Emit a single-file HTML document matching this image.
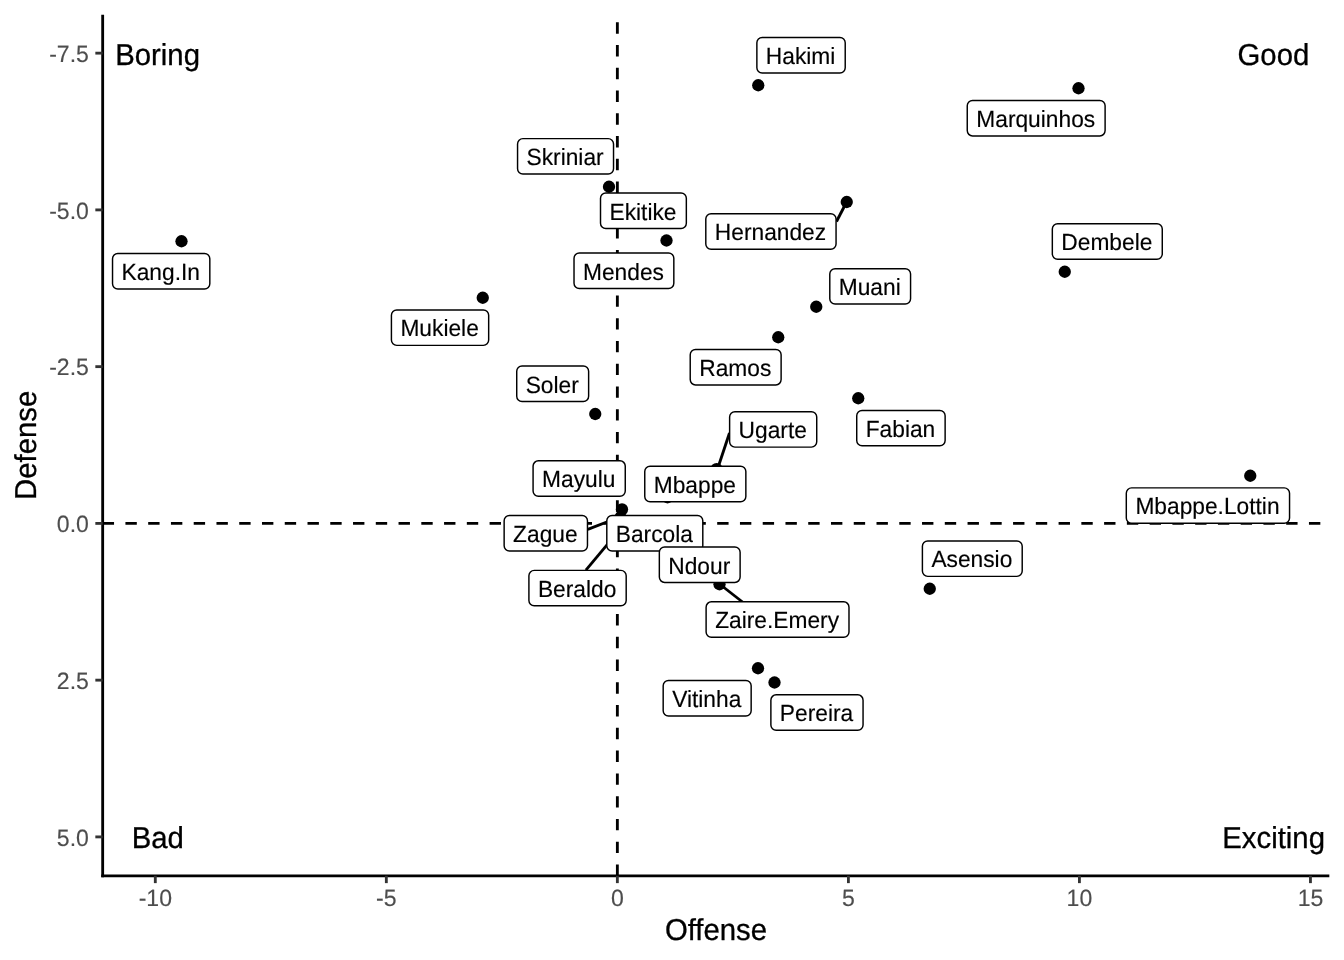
<!DOCTYPE html>
<html><head><meta charset="utf-8"><title>Offense vs Defense</title>
<style>html,body{margin:0;padding:0;background:#fff;}body{width:1344px;height:960px;overflow:hidden;}svg{display:block;will-change:transform;filter:grayscale(1);}
text{font-family:"Liberation Sans",sans-serif;stroke-width:0.3px;paint-order:stroke;text-rendering:geometricPrecision;}.ti{stroke:#000;}.lb{stroke:#000;stroke-width:0.15px;}.tk{stroke:#4d4d4d;stroke-width:0.15px;}
.tk{font-size:23.05px;fill:#4d4d4d;}.ti{font-size:29.33px;fill:#000;}.lb{font-size:22.76px;fill:#000;text-anchor:middle;}
.bx{fill:#fff;stroke:#000;stroke-width:1.45;}.sg{stroke:#000;stroke-width:2.84;fill:none;}
</style></head><body>
<svg width="1344" height="960" viewBox="0 0 1344 960">
<rect x="0" y="0" width="1344" height="960" fill="#ffffff"/>
<g fill="#000">
<circle cx="181.50" cy="241.25" r="6.15"/>
<circle cx="609.00" cy="186.75" r="6.15"/>
<circle cx="666.50" cy="240.50" r="6.15"/>
<circle cx="482.75" cy="297.75" r="6.15"/>
<circle cx="595.25" cy="414.00" r="6.15"/>
<circle cx="758.25" cy="85.25" r="6.15"/>
<circle cx="1078.50" cy="88.25" r="6.15"/>
<circle cx="846.75" cy="202.00" r="6.15"/>
<circle cx="1064.75" cy="271.75" r="6.15"/>
<circle cx="816.25" cy="306.75" r="6.15"/>
<circle cx="778.25" cy="337.25" r="6.15"/>
<circle cx="858.25" cy="398.25" r="6.15"/>
<circle cx="1250.25" cy="475.75" r="6.15"/>
<circle cx="929.75" cy="588.75" r="6.15"/>
<circle cx="758.00" cy="668.25" r="6.15"/>
<circle cx="774.50" cy="682.50" r="6.15"/>
<circle cx="622.00" cy="509.35" r="6.15"/>
<circle cx="716.60" cy="469.05" r="6.15"/>
<circle cx="667.50" cy="497.25" r="6.15"/>
<circle cx="719.50" cy="584.25" r="6.15"/>
<circle cx="620.50" cy="517.45" r="6.15"/>
</g>
<g stroke="#000" stroke-width="2.84" stroke-dasharray="11.38 11.38" fill="none">
<line x1="102.67" y1="523.40" x2="1329.33" y2="523.40"/>
<line x1="617.36" y1="875.80" x2="617.36" y2="14.67"/>
</g>
<g class="ti" text-anchor="middle">
<text class="ti" transform="translate(157.60,64.70) scale(1,1.030)">Boring</text>
<text class="ti" transform="translate(1273.40,64.90) scale(1,1.030)">Good</text>
<text class="ti" transform="translate(157.80,848.00) scale(1,1.030)">Bad</text>
<text class="ti" transform="translate(1273.60,848.20) scale(1,1.030)">Exciting</text>
</g>
<g>
<rect class="bx" x="112.53" y="253.56" width="97.29" height="35.39" rx="5.3" ry="5.3"/>
<text class="lb" transform="translate(160.72,280.06) scale(1,1.030)">Kang.In</text>
</g>
<g>
<rect class="bx" x="517.56" y="138.63" width="95.97" height="35.39" rx="5.3" ry="5.3"/>
<text class="lb" transform="translate(565.10,165.13) scale(1,1.030)">Skriniar</text>
</g>
<g>
<rect class="bx" x="600.51" y="193.06" width="85.83" height="35.39" rx="5.3" ry="5.3"/>
<text class="lb" transform="translate(642.98,219.56) scale(1,1.030)">Ekitike</text>
</g>
<g>
<rect class="bx" x="574.02" y="253.06" width="99.81" height="35.39" rx="5.3" ry="5.3"/>
<text class="lb" transform="translate(623.48,279.56) scale(1,1.030)">Mendes</text>
</g>
<g>
<rect class="bx" x="391.42" y="309.98" width="97.25" height="35.39" rx="5.3" ry="5.3"/>
<text class="lb" transform="translate(439.60,336.48) scale(1,1.030)">Mukiele</text>
</g>
<g>
<rect class="bx" x="516.73" y="366.06" width="71.90" height="35.39" rx="5.3" ry="5.3"/>
<text class="lb" transform="translate(552.23,392.56) scale(1,1.030)">Soler</text>
</g>
<g>
<rect class="bx" x="690.22" y="349.53" width="90.90" height="35.39" rx="5.3" ry="5.3"/>
<text class="lb" transform="translate(735.23,376.03) scale(1,1.030)">Ramos</text>
</g>
<g>
<line class="sg" x1="729.50" y1="433.00" x2="717.60" y2="468.80"/>
<rect class="bx" x="729.62" y="411.75" width="87.11" height="35.39" rx="5.3" ry="5.3"/>
<text class="lb" transform="translate(772.73,438.25) scale(1,1.030)">Ugarte</text>
</g>
<g>
<rect class="bx" x="533.08" y="460.81" width="92.18" height="35.39" rx="5.3" ry="5.3"/>
<text class="lb" transform="translate(578.73,487.31) scale(1,1.030)">Mayulu</text>
</g>
<g>
<rect class="bx" x="644.76" y="466.31" width="101.09" height="35.39" rx="5.3" ry="5.3"/>
<text class="lb" transform="translate(694.85,492.81) scale(1,1.030)">Mbappe</text>
</g>
<g>
<line class="sg" x1="587.80" y1="529.40" x2="612.00" y2="520.00"/>
<rect class="bx" x="504.14" y="515.55" width="83.33" height="35.39" rx="5.3" ry="5.3"/>
<text class="lb" transform="translate(545.35,542.05) scale(1,1.030)">Zague</text>
</g>
<g>
<line class="sg" x1="585.90" y1="570.20" x2="612.00" y2="538.90"/>
<rect class="bx" x="528.91" y="570.38" width="97.28" height="35.39" rx="5.3" ry="5.3"/>
<text class="lb" transform="translate(577.10,596.88) scale(1,1.030)">Beraldo</text>
</g>
<g>
<rect class="bx" x="606.80" y="515.55" width="96.00" height="35.39" rx="5.3" ry="5.3"/>
<text class="lb" transform="translate(654.35,542.05) scale(1,1.030)">Barcola</text>
</g>
<g>
<line class="sg" x1="742.50" y1="602.00" x2="719.50" y2="584.00"/>
<rect class="bx" x="706.11" y="601.83" width="142.88" height="35.39" rx="5.3" ry="5.3"/>
<text class="lb" transform="translate(777.10,628.33) scale(1,1.030)">Zaire.Emery</text>
</g>
<g>
<rect class="bx" x="659.34" y="547.03" width="80.78" height="35.39" rx="5.3" ry="5.3"/>
<text class="lb" transform="translate(699.27,573.53) scale(1,1.030)">Ndour</text>
</g>
<g>
<rect class="bx" x="663.18" y="680.55" width="87.98" height="35.39" rx="5.3" ry="5.3"/>
<text class="lb" transform="translate(706.73,707.05) scale(1,1.030)">Vitinha</text>
</g>
<g>
<rect class="bx" x="770.88" y="694.83" width="92.18" height="35.39" rx="5.3" ry="5.3"/>
<text class="lb" transform="translate(816.52,721.33) scale(1,1.030)">Pereira</text>
</g>
<g>
<rect class="bx" x="756.87" y="37.55" width="88.35" height="35.39" rx="5.3" ry="5.3"/>
<text class="lb" transform="translate(800.60,64.06) scale(1,1.030)">Hakimi</text>
</g>
<g>
<rect class="bx" x="967.25" y="100.53" width="137.86" height="35.39" rx="5.3" ry="5.3"/>
<text class="lb" transform="translate(1035.72,127.03) scale(1,1.030)">Marquinhos</text>
</g>
<g>
<line class="sg" x1="836.50" y1="221.50" x2="846.75" y2="201.75"/>
<rect class="bx" x="705.80" y="213.81" width="130.26" height="35.39" rx="5.3" ry="5.3"/>
<text class="lb" transform="translate(770.48,240.31) scale(1,1.030)">Hernandez</text>
</g>
<g>
<rect class="bx" x="1052.33" y="223.81" width="109.94" height="35.39" rx="5.3" ry="5.3"/>
<text class="lb" transform="translate(1106.85,250.31) scale(1,1.030)">Dembele</text>
</g>
<g>
<rect class="bx" x="829.79" y="268.68" width="80.78" height="35.39" rx="5.3" ry="5.3"/>
<text class="lb" transform="translate(869.73,295.18) scale(1,1.030)">Muani</text>
</g>
<g>
<rect class="bx" x="856.73" y="410.43" width="88.40" height="35.39" rx="5.3" ry="5.3"/>
<text class="lb" transform="translate(900.48,436.93) scale(1,1.030)">Fabian</text>
</g>
<g>
<rect class="bx" x="1126.30" y="487.88" width="163.25" height="35.39" rx="5.3" ry="5.3"/>
<text class="lb" transform="translate(1207.47,514.38) scale(1,1.030)">Mbappe.Lottin</text>
</g>
<g>
<rect class="bx" x="922.40" y="540.98" width="99.81" height="35.39" rx="5.3" ry="5.3"/>
<text class="lb" transform="translate(971.85,567.48) scale(1,1.030)">Asensio</text>
</g>
<g stroke="#000" stroke-width="2.84" fill="none">
<line x1="102.67" y1="14.67" x2="102.67" y2="877.22"/>
<line x1="101.25" y1="875.80" x2="1329.33" y2="875.80"/>
</g>
<g stroke="#333" stroke-width="2.84" fill="none">
<line x1="95.34" y1="53.15" x2="102.67" y2="53.15"/>
<line x1="95.34" y1="209.90" x2="102.67" y2="209.90"/>
<line x1="95.34" y1="366.65" x2="102.67" y2="366.65"/>
<line x1="95.34" y1="523.40" x2="102.67" y2="523.40"/>
<line x1="95.34" y1="680.15" x2="102.67" y2="680.15"/>
<line x1="95.34" y1="836.90" x2="102.67" y2="836.90"/>
<line x1="155.30" y1="875.80" x2="155.30" y2="883.13"/>
<line x1="386.33" y1="875.80" x2="386.33" y2="883.13"/>
<line x1="617.36" y1="875.80" x2="617.36" y2="883.13"/>
<line x1="848.39" y1="875.80" x2="848.39" y2="883.13"/>
<line x1="1079.42" y1="875.80" x2="1079.42" y2="883.13"/>
<line x1="1310.45" y1="875.80" x2="1310.45" y2="883.13"/>
</g>
<g class="tk" text-anchor="end">
<text class="tk" transform="translate(88.90,61.75) scale(1,1.030)">-7.5</text>
<text class="tk" transform="translate(88.90,218.50) scale(1,1.030)">-5.0</text>
<text class="tk" transform="translate(88.90,375.25) scale(1,1.030)">-2.5</text>
<text class="tk" transform="translate(88.90,532.00) scale(1,1.030)">0.0</text>
<text class="tk" transform="translate(88.90,688.75) scale(1,1.030)">2.5</text>
<text class="tk" transform="translate(88.90,845.50) scale(1,1.030)">5.0</text>
</g>
<g class="tk" text-anchor="middle">
<text class="tk" transform="translate(155.30,905.60) scale(1,1.020)">-10</text>
<text class="tk" transform="translate(386.33,905.60) scale(1,1.020)">-5</text>
<text class="tk" transform="translate(617.36,905.60) scale(1,1.020)">0</text>
<text class="tk" transform="translate(848.39,905.60) scale(1,1.020)">5</text>
<text class="tk" transform="translate(1079.42,905.60) scale(1,1.020)">10</text>
<text class="tk" transform="translate(1310.45,905.60) scale(1,1.020)">15</text>
</g>
<g text-anchor="middle"><text class="ti" transform="translate(716.00,939.70) scale(1,1.030)">Offense</text></g>
<g text-anchor="middle"><text class="ti" transform="translate(35.9,445.3) rotate(-90) scale(1,1.030)">Defense</text></g>
</svg></body></html>
